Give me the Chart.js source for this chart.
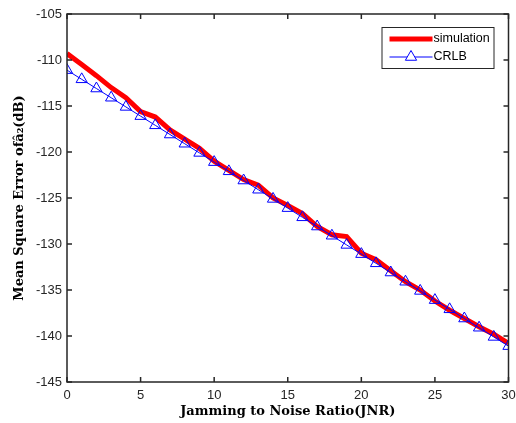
<!DOCTYPE html>
<html>
<head>
<meta charset="utf-8">
<script src="https://cdn.jsdelivr.net/npm/chart.js@4/dist/chart.umd.min.js"></script>
<style>
  html, body { margin: 0; padding: 0; background: #fff; }
  #wrap { width: 516px; height: 423px; }
</style>
</head>
<body>
<div id="wrap"><canvas id="mseChart" width="516" height="423"></canvas></div>
<script>
/* ==============================
   DATA
============================== */
const jnr = [0, 1, 2, 3, 4, 5, 6, 7, 8, 9, 10, 11, 12, 13, 14, 15,
  16, 17, 18, 19, 20, 21, 22, 23, 24, 25, 26, 27, 28, 29, 30];

const simulation = [-109.3, -110.5, -111.7, -113.0, -114.1, -115.6, -116.2,
  -117.6, -118.6, -119.6, -121.0, -122.0, -123.0, -123.6, -125.0, -125.8,
  -126.7, -128.1, -129.0, -129.2, -131.0, -131.7, -132.9, -134.1, -135.0,
  -136.2, -137.2, -138.1, -139.0, -139.8, -140.8];

const crlb = [-111.1, -112.1, -113.1, -114.1, -115.1, -116.1, -117.1,
  -118.1, -119.1, -120.1, -121.1, -122.1, -123.1, -124.1, -125.1, -126.1,
  -127.1, -128.1, -129.1, -130.1, -131.1, -132.1, -133.1, -134.1, -135.1,
  -136.1, -137.1, -138.1, -139.1, -140.1, -141.1];

const xTicks = [0, 5, 10, 15, 20, 25, 30];
const yTicks = [-145, -140, -135, -130, -125, -120, -115, -110, -105];

const seriesNames = ["simulation", "CRLB"];

const AXIS_COLOR = "#262626";
const tickFont = { family: "Liberation Sans, Arial, sans-serif", size: 13 };
const titleFont = { family: "DejaVu Serif, Liberation Serif, serif", size: 13, weight: "bold" };

const toPoints = (ys) => ys.map((y, i) => ({ x: jnr[i], y }));

/* ==============================
   BOX + INWARD TICKS (matlab look)
============================== */
const boxPlugin = {
  id: "boxTicks",
  afterDatasetsDraw(chart) {
    const { ctx, chartArea: a, scales } = chart;
    ctx.save();
    ctx.strokeStyle = AXIS_COLOR;
    ctx.lineWidth = 1.5;
    ctx.strokeRect(a.left, a.top, a.right - a.left, a.bottom - a.top);

    const len = 5;
    ctx.beginPath();
    xTicks.forEach((v) => {
      const px = scales.x.getPixelForValue(v);
      ctx.moveTo(px, a.bottom); ctx.lineTo(px, a.bottom - len);
      ctx.moveTo(px, a.top); ctx.lineTo(px, a.top + len);
    });
    yTicks.forEach((v) => {
      const py = scales.y.getPixelForValue(v);
      ctx.moveTo(a.left, py); ctx.lineTo(a.left + len, py);
      ctx.moveTo(a.right, py); ctx.lineTo(a.right - len, py);
    });
    ctx.stroke();
    ctx.restore();
  },
};

/* ==============================
   LEGEND (inside, top right)
============================== */
const legendPlugin = {
  id: "insideLegend",
  afterDraw(chart) {
    const { ctx, chartArea: a } = chart;
    const ds = chart.data.datasets;
    const w = 112, h = 41;
    const x0 = a.right - 15 - w, y0 = a.top + 13;

    ctx.save();
    ctx.fillStyle = "#fff";
    ctx.fillRect(x0, y0, w, h);
    ctx.strokeStyle = "#262626";
    ctx.lineWidth = 1;
    ctx.strokeRect(x0 + 0.5, y0 + 0.5, w, h);

    ctx.font = "12.5px Liberation Sans, Arial, sans-serif";
    ctx.textBaseline = "middle";
    ctx.textAlign = "left";

    ds.forEach((d, i) => {
      const yy = y0 + 12 + i * 18;
      const lx0 = x0 + 8, lx1 = x0 + 51;
      ctx.strokeStyle = d.borderColor;
      ctx.lineWidth = d.borderWidth;
      ctx.beginPath();
      ctx.moveTo(lx0, yy); ctx.lineTo(lx1, yy);
      ctx.stroke();
      if (d.pointRadius > 0) {
        ctx.fillStyle = "#fff";
        ctx.strokeStyle = d.pointBorderColor;
        ctx.lineWidth = d.pointBorderWidth;
        Chart.helpers.drawPoint(ctx, {
          pointStyle: d.pointStyle,
          radius: d.pointRadius,
          borderWidth: d.pointBorderWidth,
        }, (lx0 + lx1) / 2, yy);
      }
      ctx.fillStyle = "#000";
      ctx.fillText(d.label, lx1 + 1, yy);
    });
    ctx.restore();
  },
};

/* ==============================
   CHART
============================== */
const canvas = document.getElementById("mseChart");

new Chart(canvas, {
  type: "line",
  data: {
    datasets: [
      {
        label: seriesNames[0],
        data: toPoints(simulation),
        borderColor: "#ff0000",
        backgroundColor: "#ff0000",
        borderWidth: 5,
        pointRadius: 0,
        tension: 0,
        order: 2,
      },
      {
        label: seriesNames[1],
        data: toPoints(crlb),
        borderColor: "#0000ff",
        backgroundColor: "#0000ff",
        borderWidth: 1,
        pointStyle: "triangle",
        pointRadius: 6.5,
        pointBorderWidth: 1,
        pointBorderColor: "#0000ff",
        pointBackgroundColor: "rgba(0,0,0,0)",
        tension: 0,
        order: 1,
      },
    ],
  },
  options: {
    responsive: false,
    animation: false,
    layout: {
      padding: { left: 0, right: 7, top: 14, bottom: 0 },
    },
    scales: {
      x: {
        type: "linear",
        min: 0,
        max: 30,
        afterBuildTicks: (s) => { s.ticks = xTicks.map((v) => ({ value: v })); },
        afterFit: (s) => { s.height = 41; s.paddingLeft = 0; s.paddingRight = 0; },
        grid: { display: false, drawTicks: false },
        border: { display: false },
        ticks: { color: AXIS_COLOR, font: tickFont, padding: 6, maxRotation: 0 },
        title: {
          display: true,
          text: "Jamming to Noise Ratio(JNR)",
          color: "#000",
          font: titleFont,
          padding: { top: 0, bottom: 4 },
        },
      },
      y: {
        type: "linear",
        min: -145,
        max: -105,
        afterBuildTicks: (s) => { s.ticks = yTicks.map((v) => ({ value: v })); },
        afterFit: (s) => { s.width = 67; s.paddingTop = 0; s.paddingBottom = 0; },
        grid: { display: false, drawTicks: false },
        border: { display: false },
        ticks: { color: AXIS_COLOR, font: tickFont, padding: 5 },
        title: {
          display: true,
          text: "Mean Square Error ofâ\u2082(dB)",
          color: "#000",
          font: titleFont,
          padding: { top: 12, bottom: 6 },
        },
      },
    },
    plugins: {
      legend: { display: false },
      tooltip: { enabled: false },
    },
  },
  plugins: [boxPlugin, legendPlugin],
});
</script>
</body>
</html>
